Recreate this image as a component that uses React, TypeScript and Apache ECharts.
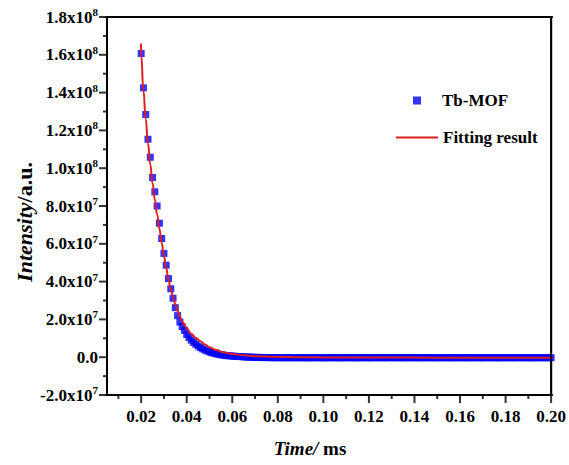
import React, { useEffect, useRef } from "react";
import * as echarts from "echarts";

// Sampling of the measured decay (ms)
const TIME_START = 0.02;
const TIME_STEP = 0.001;

// Tb-MOF measured intensity, in units of 1e7 a.u. (one point per 0.001 ms from 0.020 to 0.200 ms)
const tbMofIntensity: number[] = [
  16.07, 14.25, 12.84, 11.53, 10.58, 9.51, 8.75, 8.0, 7.09, 6.28, 5.49, 4.87,
  4.16, 3.62, 3.12, 2.62, 2.2, 1.86, 1.62, 1.42, 1.2, 1.04, 0.9, 0.78, 0.68, 0.59,
  0.51, 0.44, 0.38, 0.33, 0.28, 0.24, 0.21, 0.18, 0.15, 0.13, 0.11, 0.09, 0.08,
  0.07, 0.06, 0.05, 0.04, 0.035, 0.03, 0.02,
  0.01, 0.01, 0.0, 0.0, -0.01, -0.01, -0.01, -0.02, -0.02, -0.02,
  -0.02, -0.02, -0.03, -0.02, -0.03, -0.02, -0.03, -0.03, -0.02, -0.03,
  -0.03, -0.02, -0.03, -0.03, -0.02, -0.03, -0.03, -0.03, -0.02, -0.03,
  -0.03, -0.02, -0.03, -0.03, -0.03, -0.02, -0.03, -0.03, -0.02, -0.03,
  -0.03, -0.03, -0.02, -0.03, -0.03, -0.02, -0.03, -0.03, -0.03, -0.02,
  -0.03, -0.03, -0.02, -0.03, -0.03, -0.03, -0.02, -0.03, -0.03, -0.02,
  -0.03, -0.03, -0.03, -0.02, -0.03, -0.03, -0.02, -0.03, -0.03, -0.03,
  -0.02, -0.03, -0.03, -0.02, -0.03, -0.03, -0.03, -0.02, -0.03, -0.03,
  -0.02, -0.03, -0.03, -0.03, -0.02, -0.03, -0.03, -0.02, -0.03, -0.03,
  -0.03, -0.02, -0.03, -0.03, -0.02, -0.03, -0.03, -0.03, -0.02, -0.03,
  -0.03, -0.02, -0.03, -0.03, -0.03, -0.02, -0.03, -0.03, -0.02, -0.03,
  -0.03, -0.03, -0.02, -0.03, -0.03, -0.02, -0.03, -0.03, -0.03, -0.02,
  -0.03, -0.03, -0.02, -0.03, -0.03, -0.03, -0.02, -0.03, -0.03, -0.02,
  -0.03, -0.03, -0.02, -0.03, -0.03,
];

// Fitting curve (ms, 1e7 a.u.)
const fitTimes: number[] = [
  0.0199, 0.02, 0.021, 0.022, 0.023, 0.024, 0.025, 0.026, 0.027, 0.028, 0.029,
  0.03, 0.031, 0.032, 0.033, 0.034, 0.035, 0.036, 0.037, 0.038, 0.039, 0.04,
  0.042, 0.044, 0.046, 0.048, 0.05, 0.053, 0.056, 0.06, 0.065, 0.07, 0.08,
  0.09, 0.1, 0.12, 0.14, 0.16, 0.18, 0.2,
];
const fitValues: number[] = [
  16.6, 16.0, 14.1, 12.6, 11.3, 10.2, 9.2, 8.35, 7.55, 6.8, 6.05,
  5.35, 4.7, 4.1, 3.6, 3.2, 2.8, 2.45, 2.15, 1.9, 1.7, 1.52,
  1.24, 1.02, 0.84, 0.67, 0.52, 0.38, 0.26, 0.17, 0.1, 0.05, 0.02,
  0.0, -0.01, -0.02, -0.02, -0.03, -0.03, -0.03,
];

// Axis ranges and ticks
const X_MIN = 0.005;
const X_MAX = 0.2;
const Y_MIN = -2e7;
const Y_MAX = 1.8e8;
const xMajorTicks = [0.02, 0.04, 0.06, 0.08, 0.1, 0.12, 0.14, 0.16, 0.18, 0.2];
const xMinorTicks = [0.01, 0.03, 0.05, 0.07, 0.09, 0.11, 0.13, 0.15, 0.17, 0.19];
const yMajorTicks = [-2e7, 0, 2e7, 4e7, 6e7, 8e7, 1e8, 1.2e8, 1.4e8, 1.6e8, 1.8e8];
const yMinorTicks = [-1e7, 1e7, 3e7, 5e7, 7e7, 9e7, 1.1e8, 1.3e8, 1.5e8, 1.7e8];

const SERIF = "Liberation Serif, Times New Roman, serif";
const UNIT = 1e7;
const W = 569;
const H = 465;
const G_LEFT = 107;
const G_RIGHT = 16;
const G_TOP = 17;
const G_BOTTOM = 70;
const PLOT_W = W - G_LEFT - G_RIGHT;
const PLOT_H = H - G_TOP - G_BOTTOM;

function yLabel(v: number): string {
  if (Math.abs(v) < 1) return "{b|0.0}";
  const e = Math.floor(Math.log10(Math.abs(v)) + 1e-9);
  const m = v / Math.pow(10, e);
  return `{b|${m.toFixed(1)}x10}{s|${e}}`;
}

// decoration series (ticks / frame) drawn as filled black rect symbols
function deco(name: string, data: number[][], size: number[], offset: number[]) {
  return {
    name,
    type: "scatter",
    silent: true,
    clip: false,
    symbol: "rect",
    symbolSize: size,
    symbolOffset: offset,
    itemStyle: { color: "#000" },
    z: 6,
    data,
  };
}

export default function App() {
  const ref = useRef<HTMLDivElement>(null);
  useEffect(() => {
    if (!ref.current) return;
    document.body.style.margin = "0";
    const chart = echarts.init(ref.current, undefined, { renderer: "svg" });
    const scatterData = tbMofIntensity.map((v, i) => [
      +(TIME_START + i * TIME_STEP).toFixed(3),
      v * UNIT,
    ]);
    const fitData = fitTimes.map((t, i) => [t, fitValues[i] * UNIT]);
    const labelBase = { fontFamily: SERIF, fontWeight: "bold" as const, color: "#000" };
    const xMid = (X_MIN + X_MAX) / 2;
    const yMid = (Y_MIN + Y_MAX) / 2;

    chart.setOption({
      animation: false,
      backgroundColor: "#fff",
      grid: {
        left: G_LEFT,
        right: G_RIGHT,
        top: G_TOP,
        bottom: G_BOTTOM,
        show: true,
        borderColor: "#000",
        borderWidth: 2,
      },
      xAxis: {
        type: "value",
        min: X_MIN,
        max: X_MAX,
        axisLine: { show: true, onZero: false, lineStyle: { color: "#000", width: 2 } },
        axisTick: { show: false },
        axisLabel: {
          show: true,
          customValues: xMajorTicks,
          margin: 13,
          fontSize: 17,
          ...labelBase,
          formatter: (v: number) => v.toFixed(2),
        },
        splitLine: { show: false },
      },
      yAxis: {
        type: "value",
        min: Y_MIN,
        max: Y_MAX,
        interval: 2e7,
        axisLine: { show: true, onZero: false, lineStyle: { color: "#000", width: 2 } },
        axisTick: { show: false },
        splitLine: { show: false },
        axisLabel: {
          margin: 9,
          formatter: yLabel,
          rich: {
            b: { ...labelBase, fontSize: 17 },
            s: { ...labelBase, fontSize: 11, padding: [0, 0, 10, 0] },
          },
        },
      },
      legend: [
        {
          data: [{ name: "Tb-MOF", icon: "rect" }],
          left: 413,
          top: 92,
          padding: 0,
          itemWidth: 8,
          itemHeight: 8,
          textStyle: { ...labelBase, fontSize: 17, padding: [0, 0, 0, 16] },
        },
        {
          data: [{ name: "Fitting result", icon: "rect" }],
          left: 396,
          top: 129,
          padding: 0,
          itemWidth: 42,
          itemHeight: 2,
          textStyle: { ...labelBase, fontSize: 17 },
        },
      ],
      graphic: [
        {
          type: "text",
          x: 24,
          y: 222,
          rotation: Math.PI / 2,
          style: {
            text: "{i|Intensity}{n|/a.u.}",
            align: "center",
            verticalAlign: "middle",
            textAlign: "center",
            textVerticalAlign: "middle",
            rich: {
              i: { fontFamily: SERIF, fontWeight: "bold", fontStyle: "italic", fontSize: 22, fill: "#000" },
              n: { fontFamily: SERIF, fontWeight: "bold", fontSize: 22, fill: "#000" },
            },
          },
        },
        {
          type: "text",
          x: 310,
          y: 448,
          style: {
            text: "{i|Time/}{n| ms}",
            align: "center",
            verticalAlign: "middle",
            textAlign: "center",
            textVerticalAlign: "middle",
            rich: {
              i: { fontFamily: SERIF, fontWeight: "bold", fontStyle: "italic", fontSize: 19, fill: "#000" },
              n: { fontFamily: SERIF, fontWeight: "bold", fontSize: 19, fill: "#000" },
            },
          },
        },
      ],
      series: [
        {
          name: "Tb-MOF",
          type: "scatter",
          symbol: "rect",
          symbolSize: 7,
          itemStyle: { color: "#0000ff" },
          data: scatterData,
          z: 2,
        },
        {
          name: "Fitting result",
          type: "line",
          symbol: "none",
          smooth: true,
          smoothMonotone: "x",
          lineStyle: { color: "#dd1f1f", width: 2 },
          itemStyle: { color: "#dd1f1f" },
          data: fitData,
          z: 3,
        },
        deco("xMajorTick", xMajorTicks.map((v) => [v, Y_MIN]), [2, 8], [0, 4]),
        deco("xMinorTick", xMinorTicks.map((v) => [v, Y_MIN]), [2, 4], [0, 2]),
        deco("yMajorTick", yMajorTicks.map((v) => [X_MIN, v]), [8, 2], [-4, 0]),
        deco("yMinorTick", yMinorTicks.map((v) => [X_MIN, v]), [4, 2], [-2, 0]),
        deco("frameH", [[xMid, Y_MIN], [xMid, Y_MAX]], [PLOT_W + 2, 2], [0, 0]),
        deco("frameV", [[X_MIN, yMid], [X_MAX, yMid]], [2, PLOT_H + 2], [0, 0]),
      ],
    });
    return () => chart.dispose();
  }, []);
  return (
    <div
      ref={ref}
      style={{ position: "absolute", left: 0, top: 0, width: W, height: H }}
    />
  );
}
